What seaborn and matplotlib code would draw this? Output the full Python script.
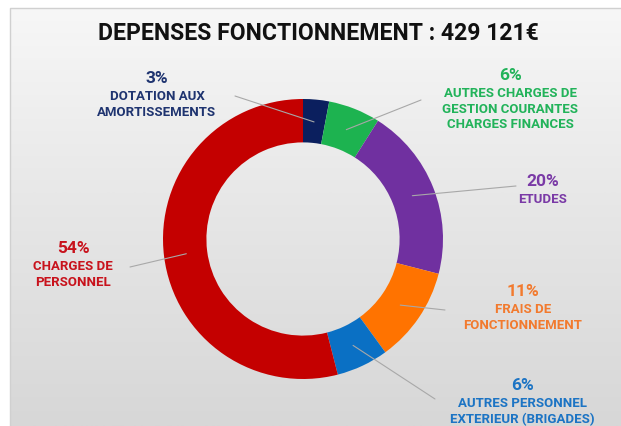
import numpy as np
import matplotlib.pyplot as plt
from matplotlib.colors import LinearSegmentedColormap
import seaborn as sns

# Depenses de fonctionnement, parts en %
titre = "DEPENSES FONCTIONNEMENT : 429 121€"
postes = ["DOTATION AUX\nAMORTISSEMENTS",
          "AUTRES CHARGES DE\nGESTION COURANTES\nCHARGES FINANCES",
          "ETUDES",
          "FRAIS DE\nFONCTIONNEMENT",
          "AUTRES PERSONNEL\nEXTERIEUR (BRIGADES)",
          "CHARGES DE\nPERSONNEL"]
parts = [3, 6, 20, 11, 6, 54]
couleurs = ["#0b1f5e", "#1db350", "#7030a0", "#ff7300", "#0a70c4", "#c40000"]
couleurs_txt = ["#1f3470", "#22b35a", "#7a3aa6", "#f27a2e", "#1c74c4", "#c8121c"]

# positions des etiquettes (pixels) : centre x, centre du %, bout du trait
pos_x = [157, 510, 543, 523, 522, 73]
pos_pct = [77, 74, 180, 290, 384, 247]
bout_trait = [(235, 97), (421, 101), (516, 187), (445, 311), (435, 400), (130, 268)]

sns.set_theme(style="white")
plt.rcParams["font.family"] = ["Roboto", "DejaVu Sans"]

W, H = 621, 427
fig = plt.figure(figsize=(W / 100, H / 100), dpi=100)
fig.patch.set_facecolor("white")

# fond degrade
bg = fig.add_axes([0, 0, 1, 1])
bg.set_xlim(0, W)
bg.set_ylim(H, 0)
bg.axis("off")
degrade = LinearSegmentedColormap.from_list("fond", ["#f7f7f7", "#e6e6e6", "#d7d7d7"])
bg.imshow(np.linspace(0, 1, 256)[:, None], cmap=degrade, extent=(10, W, H, 9),
          aspect="auto", zorder=0)
bg.plot([10, 10, W], [H, 9, 9], color="#d0d0d0", lw=1, zorder=1)
bg.text(318, 33, titre, ha="center", va="center", fontsize=16.6,
        fontweight="bold", color="#111111")

# anneau
cx, cy, R = 303, 240, 140
ax = fig.add_axes([(cx - R) / W, (H - cy - R) / H, 2 * R / W, 2 * R / H])
wedges, _ = ax.pie(parts, colors=couleurs, startangle=90, counterclock=False,
                   radius=1, wedgeprops=dict(width=0.31, edgecolor="none"))
ax.set_xlim(-1, 1)
ax.set_ylim(-1, 1)
ax.set_facecolor("none")


def px2d(x, y):
    return (x - cx) / R, (cy - y) / R


for i, w in enumerate(wedges):
    c = couleurs_txt[i]
    x, yp = pos_x[i], pos_pct[i]
    a = np.deg2rad((w.theta1 + w.theta2) / 2)
    x0, y0 = 0.84 * np.cos(a), 0.84 * np.sin(a)
    x1, y1 = px2d(*bout_trait[i])
    ax.plot([x0, x1], [y0, y1], color="#a8a8a8", lw=0.8, clip_on=False, zorder=5)
    tx, ty = px2d(x, yp + 6)
    ax.text(tx, ty, f"{parts[i]}%", ha="center", va="baseline",
            fontsize=12.5, fontweight="bold", color=c, clip_on=False)
    for k, ligne in enumerate(postes[i].split("\n")):
        tx, ty = px2d(x, yp + 18 + 5 + 15.7 * k)
        ax.text(tx, ty, ligne, ha="center", va="baseline", fontsize=9.5,
                fontweight="bold", color=c, clip_on=False)

fig.savefig("out.png", dpi=100)
